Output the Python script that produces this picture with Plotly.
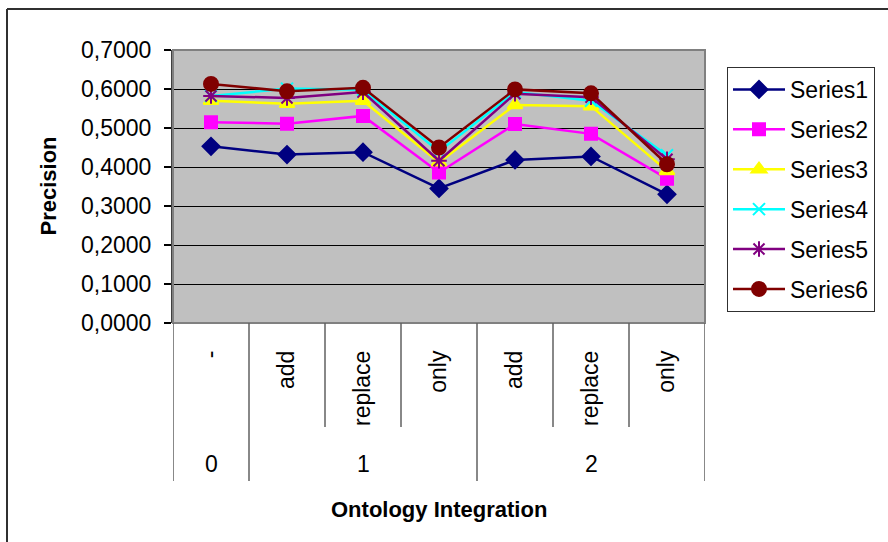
import plotly.graph_objects as go

# Category levels for the x axis
groups = ["0", "1", "2"]
group_spans = [(0, 0), (1, 3), (4, 6)]
methods = ["-", "add", "replace", "only", "add", "replace", "only"]

series_names = ["Series1", "Series2", "Series3", "Series4", "Series5", "Series6"]
series1 = [0.453, 0.432, 0.438, 0.345, 0.418, 0.427, 0.330]
series2 = [0.515, 0.511, 0.531, 0.386, 0.510, 0.485, 0.370]
series3 = [0.570, 0.562, 0.570, 0.412, 0.559, 0.556, 0.390]
series4 = [0.582, 0.601, 0.598, 0.440, 0.592, 0.570, 0.430]
series5 = [0.582, 0.577, 0.592, 0.416, 0.588, 0.579, 0.420]
series6 = [0.613, 0.594, 0.603, 0.450, 0.599, 0.589, 0.407]
y_ticks = [0.0, 0.1, 0.2, 0.3, 0.4, 0.5, 0.6, 0.7]

FONT = "Liberation Sans, Arial, sans-serif"
FS = 23

styles = [
    dict(color="#000080", symbol="diamond", size=13),
    dict(color="#FF00FF", symbol="square", size=12),
    dict(color="#FFFF00", symbol="triangle-up", size=13),
    dict(color="#00FFFF", symbol="x-thin-open", size=12),
    dict(color="#800080", symbol="asterisk-open", size=13),
    dict(color="#800000", symbol="circle", size=14),
]

xs = list(range(len(methods)))
fig = go.Figure()
for name, vals, st in zip(series_names,
                          [series1, series2, series3, series4, series5, series6],
                          styles):
    fig.add_trace(go.Scatter(
        x=xs, y=vals, name=name, mode="lines+markers",
        legendgroup=name,
        line=dict(color=st["color"], width=2.5),
        marker=dict(symbol=st["symbol"], size=st["size"], color=st["color"],
                    line=dict(color=st["color"], width=2)),
    ))

# Plot-area geometry in pixels
W, H = 888, 542
L, R, T, B = 173, 705, 50, 323
pw, ph = R - L, B - T


def px_x(p):
    return (p - L) / pw


def px_y(p):
    return (B - p) / ph


shapes = []
# outer chart frame (left + top edges)
shapes.append(dict(type="line", xref="paper", yref="paper",
                   x0=px_x(7), x1=px_x(W + 5), y0=px_y(9), y1=px_y(9),
                   line=dict(color="#303030", width=2)))
shapes.append(dict(type="line", xref="paper", yref="paper",
                   x0=px_x(7), x1=px_x(7), y0=px_y(9), y1=px_y(H + 5),
                   line=dict(color="#303030", width=2)))
# plot-area border
shapes.append(dict(type="rect", xref="paper", yref="paper", x0=0, x1=1, y0=0, y1=1,
                   line=dict(color="#808080", width=2), layer="above"))

# category boundary lines below the axis
group_edges = {-0.5} | {s[1] + 0.5 for s in group_spans}
for k in range(len(methods) + 1):
    xb = k - 0.5
    bottom = 481 if xb in group_edges else 427
    shapes.append(dict(type="line", xref="x", yref="paper", x0=xb, x1=xb,
                       y0=0, y1=px_y(bottom), line=dict(color="#606060", width=1.5)))

annotations = []
for g, (a, b) in zip(groups, group_spans):
    annotations.append(dict(x=(a + b) / 2, xref="x", y=px_y(464), yref="paper",
                            text=g, showarrow=False, xanchor="center", yanchor="middle",
                            font=dict(family=FONT, size=FS, color="black")))
annotations.append(dict(x=0.5, xref="paper", y=px_y(509), yref="paper",
                        text="<b>Ontology Integration</b>", showarrow=False,
                        xanchor="center", yanchor="middle",
                        font=dict(family=FONT, size=22, color="black")))
annotations.append(dict(x=px_x(48), xref="paper", y=0.5, yref="paper",
                        text="<b>Precision</b>", textangle=-90, showarrow=False,
                        xanchor="center", yanchor="middle",
                        font=dict(family=FONT, size=22, color="black")))

fig.update_layout(
    width=W, height=H,
    margin=dict(l=L, r=W - R, t=T, b=H - B, pad=0),
    paper_bgcolor="white",
    plot_bgcolor="#C0C0C0",
    separators=",.",
    font=dict(family=FONT, size=FS, color="black"),
    shapes=shapes,
    annotations=annotations,
    showlegend=True,
    legend=dict(
        x=px_x(727), y=px_y(67), xanchor="left", yanchor="top",
        bgcolor="white", bordercolor="#303030", borderwidth=1,
        font=dict(family=FONT, size=FS, color="black"),
        tracegroupgap=7, itemwidth=52,
    ),
)

fig.update_xaxes(
    range=[-0.5, len(methods) - 0.5],
    tickmode="array", tickvals=xs, ticktext=methods,
    tickangle=-90, ticks="", showgrid=False, zeroline=False, showline=False,
    ticklabelstandoff=22,
    tickfont=dict(family=FONT, size=FS, color="black"),
)
fig.update_yaxes(
    range=[0, 0.7], tickmode="array", tickvals=y_ticks, tickformat=".4f",
    ticks="outside", ticklen=7, tickcolor="black", tickwidth=1.5,
    showgrid=True, gridcolor="black", gridwidth=1,
    zeroline=False, showline=True, linecolor="#404040", linewidth=2,
    tickfont=dict(family=FONT, size=FS, color="black"),
    ticklabelstandoff=8,
)

fig.write_html("out.html")
